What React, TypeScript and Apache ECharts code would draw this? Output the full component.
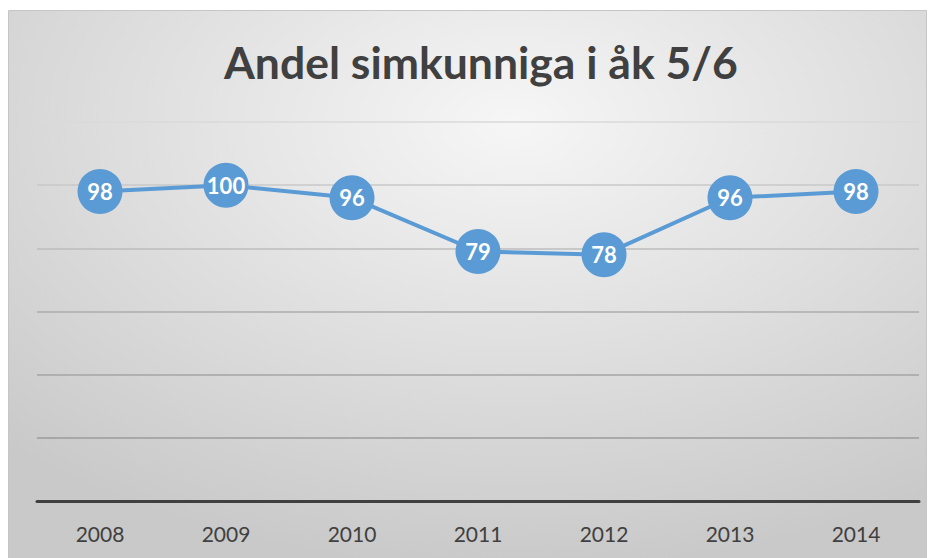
import React, { useEffect, useRef } from "react";
import * as echarts from "echarts";

const categories = ["2008", "2009", "2010", "2011", "2012", "2013", "2014"];
const values = [98, 100, 96, 79, 78, 96, 98];
const titleText = "Andel simkunniga i åk 5/6";

export default function App() {
  const ref = useRef<HTMLDivElement>(null);
  useEffect(() => {
    document.body.style.margin = "0";
    const chart = echarts.init(ref.current!, undefined, { renderer: "svg" });
    chart.setOption({
      animation: false,
      graphic: [
        {
          type: "rect",
          z: -10,
          silent: true,
          shape: { x: 8.5, y: 10.5, width: 918, height: 560 },
          style: {
            fill: new echarts.graphic.RadialGradient(0.55, 0.2, 0.8, [
              { offset: 0, color: "#f6f6f6" },
              { offset: 1, color: "#c9c9c9" },
            ]),
            stroke: "#c6c6c6",
            lineWidth: 1,
          },
        },
      ],
      title: {
        text: titleText,
        left: 219,
        top: 34,
        textStyle: {
          fontFamily: "Lato",
          fontWeight: "bold",
          fontSize: 44.5,
          color: "#404040",
        },
      },
      grid: { left: 37, right: 15, top: 122, bottom: 57 },
      xAxis: {
        type: "category",
        data: categories,
        boundaryGap: true,
        axisLine: { lineStyle: { color: "#404040", width: 3 } },
        axisTick: { show: false },
        axisLabel: {
          margin: 22,
          fontFamily: "Lato",
          fontSize: 21,
          color: "#404040",
        },
      },
      yAxis: {
        type: "value",
        min: 0,
        max: 120,
        interval: 20,
        axisLabel: { show: false },
        axisLine: { show: false },
        axisTick: { show: false },
        splitLine: {
          lineStyle: {
            width: 1.5,
            color: ["#999999", "#9b9b9b", "#a4a4a4", "#adadad", "#bcbcbc", "#c9c9c9", "#dadada"],
          },
        },
      },
      series: [
        {
          type: "line",
          data: values,
          symbol: "circle",
          symbolSize: 45,
          lineStyle: { color: "#5b9bd5", width: 4 },
          itemStyle: { color: "#5b9bd5" },
          label: {
            show: true,
            position: "inside",
            color: "#ffffff",
            fontFamily: "Lato",
            fontWeight: "bold",
            fontSize: 22,
          },
        },
      ],
    });
    return () => chart.dispose();
  }, []);
  return <div ref={ref} style={{ width: 934, height: 558 }} />;
}
